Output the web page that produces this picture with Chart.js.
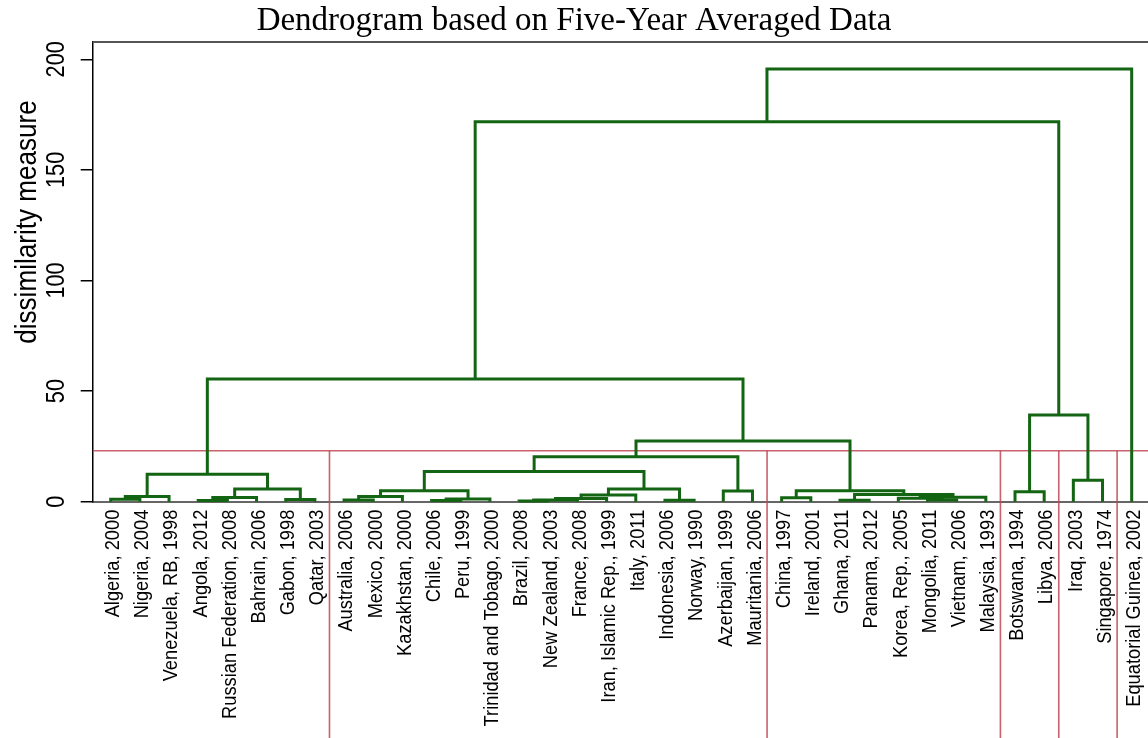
<!DOCTYPE html>
<html>
<head>
<meta charset="utf-8">
<title>Dendrogram</title>
<script src="https://cdn.jsdelivr.net/npm/chart.js@4"></script>
<style>
  html, body { margin: 0; padding: 0; background: #ffffff; }
  #wrap { width: 1148px; height: 738px; }
</style>
</head>
<body>
<div id="wrap"><canvas id="dendro" width="1148" height="738"></canvas></div>
<script>
// Leaves in plotting order (left to right)
const leafLabels = [
  'Algeria, 2000', 'Nigeria, 2004', 'Venezuela, RB, 1998', 'Angola, 2012',
  'Russian Federation, 2008', 'Bahrain, 2006', 'Gabon, 1998', 'Qatar, 2003',
  'Australia, 2006', 'Mexico, 2000', 'Kazakhstan, 2000', 'Chile, 2006',
  'Peru, 1999', 'Trinidad and Tobago, 2000', 'Brazil, 2008', 'New Zealand, 2003',
  'France, 2008', 'Iran, Islamic Rep., 1999', 'Italy, 2011', 'Indonesia, 2006',
  'Norway, 1990', 'Azerbaijan, 1999', 'Mauritania, 2006', 'China, 1997',
  'Ireland, 2001', 'Ghana, 2011', 'Panama, 2012', 'Korea, Rep., 2005',
  'Mongolia, 2011', 'Vietnam, 2006', 'Malaysia, 1993', 'Botswana, 1994',
  'Libya, 2006', 'Iraq, 2003', 'Singapore, 1974', 'Equatorial Guinea, 2002'
];

// Agglomeration steps: negative = leaf number, positive = earlier step number
const merges = [
  [-1, -2], [1, -3], [-4, -5], [3, -6], [-7, -8], [4, 5], [2, 6],
  [-9, -10], [8, -11], [-12, -13], [10, -14], [9, 11],
  [-15, -16], [13, -17], [14, -18], [15, -19], [-20, -21], [16, 17],
  [12, 18], [-22, -23], [19, 20],
  [-24, -25], [-26, -27], [-29, -30], [-28, 24], [25, -31], [23, 26], [22, 27],
  [21, 28], [7, 29],
  [-32, -33], [-34, -35], [31, 32], [30, 33], [34, -36]
];

// Dissimilarity at which each step joins its two groups
const heights = [
  1.1, 2.3, 0.5, 1.9, 1.0, 5.7, 12.4,
  0.8, 2.3, 0.5, 1.2, 5.0,
  0.3, 0.8, 1.4, 3.0, 0.6, 5.7,
  13.6, 4.8, 20.3,
  1.8, 0.6, 0.8, 1.6, 2.0, 3.2, 5.0,
  27.4, 55.5,
  4.5, 9.7, 39.2, 171.7, 195.6
];

// Cut of the tree and the sizes of the resulting groups
const cutHeight = 23;
const clusterSizes = [8, 15, 8, 2, 2, 1];

const yTicks = [0, 50, 100, 150, 200];
const chartTitle = 'Dendrogram based on Five-Year Averaged Data';
const yTitle = 'dissimilarity measure';

// ---- build the branch shapes from the merge table ----
const nodeX = [];
const nodeH = [];
function childOf(ref) {
  return ref < 0 ? { x: -ref, h: 0 } : { x: nodeX[ref - 1], h: nodeH[ref - 1] };
}
const branches = merges.map((m, i) => {
  const a = childOf(m[0]);
  const b = childOf(m[1]);
  const h = heights[i];
  nodeX[i] = (a.x + b.x) / 2;
  nodeH[i] = h;
  return [{ x: a.x, y: a.h }, { x: a.x, y: h }, { x: b.x, y: h }, { x: b.x, y: b.h }];
});

const X_MIN = 0.383;
const X_MAX = 36.559;
const Y_MAX = 207.8;
const Y_FLOOR = -120;

const GREEN = '#136513';
const RED = 'rgba(192, 70, 82, 0.85)';
const SANS = '"Liberation Sans", Arial, Helvetica, sans-serif';
const SERIF = '"Liberation Serif", "Times New Roman", Times, serif';
// rotated labels are set slightly condensed along their reading direction
const CONDENSE = 0.87;

const datasets = branches.map(pts => ({
  data: pts,
  showLine: true,
  borderColor: GREEN,
  borderWidth: 3,
  pointRadius: 0,
  fill: false,
  tension: 0,
  clip: false,
  borderJoinStyle: 'miter',
  order: 0
}));

// cut line across the plot
datasets.push({
  data: [{ x: X_MIN, y: cutHeight }, { x: X_MAX, y: cutHeight }],
  showLine: true, borderColor: RED, borderWidth: 1.6, pointRadius: 0, fill: false, order: 1
});

// group separators from the cut down through the label area
let cum = 0;
clusterSizes.slice(0, -1).forEach(n => {
  cum += n;
  const bx = cum + 0.5;
  datasets.push({
    data: [{ x: bx, y: cutHeight }, { x: bx, y: Y_FLOOR }],
    showLine: true, borderColor: RED, borderWidth: 1.6, pointRadius: 0, fill: false,
    clip: false, order: 1
  });
});

function rotatedText(ctx, text, px, py, align) {
  ctx.save();
  ctx.translate(px, py);
  ctx.rotate(-Math.PI / 2);
  ctx.scale(CONDENSE, 1);
  ctx.textAlign = align;
  ctx.textBaseline = 'middle';
  ctx.fillText(text, 0, 0);
  ctx.restore();
}

// frame top edge, rotated tick labels and y axis title
const decorations = {
  id: 'decorations',
  afterDraw(chart) {
    const { ctx, chartArea: a, scales: { x, y } } = chart;
    ctx.save();
    ctx.strokeStyle = '#555555';
    ctx.lineWidth = 2;
    ctx.beginPath();
    ctx.moveTo(a.left, a.top);
    ctx.lineTo(a.right, a.top);
    ctx.stroke();

    ctx.fillStyle = '#000000';

    ctx.font = '21px ' + SANS;
    leafLabels.forEach((lab, i) => {
      rotatedText(ctx, lab, x.getPixelForValue(i + 1) + 2.5, a.bottom + 8, 'right');
    });

    ctx.font = '25px ' + SANS;
    yTicks.forEach(v => rotatedText(ctx, String(v), 57, y.getPixelForValue(v), 'center'));

    ctx.font = '30px ' + SANS;
    rotatedText(ctx, yTitle, 28, 222, 'center');
    ctx.restore();
  }
};

new Chart(document.getElementById('dendro'), {
  type: 'scatter',
  data: { datasets },
  options: {
    responsive: false,
    animation: false,
    events: [],
    layout: { padding: 0 },
    plugins: {
      legend: { display: false },
      tooltip: { enabled: false },
      title: {
        display: true,
        text: chartTitle,
        color: '#000000',
        font: { family: SERIF, size: 33, weight: 'normal', lineHeight: 1.2 },
        padding: { top: 2, bottom: 0.4 }
      }
    },
    scales: {
      x: {
        type: 'linear',
        min: X_MIN,
        max: X_MAX,
        afterBuildTicks: s => { s.ticks = leafLabels.map((_, i) => ({ value: i + 1 })); },
        afterFit: s => { s.height = 738 - 501.7; s.paddingLeft = 0; s.paddingRight = 0; },
        ticks: { display: false },
        grid: { display: false, drawTicks: false },
        border: { display: true, color: '#666666', width: 2 }
      },
      y: {
        type: 'linear',
        min: 0,
        max: Y_MAX,
        afterBuildTicks: s => { s.ticks = yTicks.map(v => ({ value: v })); },
        afterFit: s => { s.width = 92.7; },
        ticks: { display: false },
        grid: { display: true, drawOnChartArea: false, drawTicks: true, tickLength: 12, color: '#000000', lineWidth: 1.5 },
        border: { display: true, color: '#000000', width: 1.5 }
      }
    }
  },
  plugins: [decorations]
});
</script>
</body>
</html>
